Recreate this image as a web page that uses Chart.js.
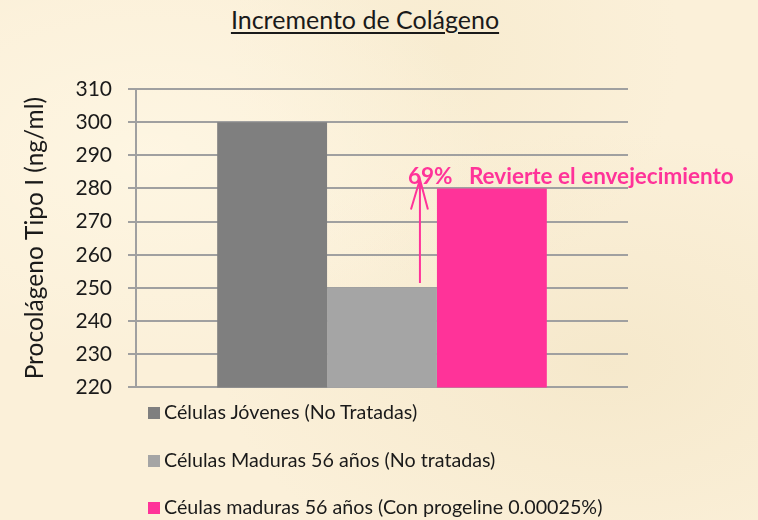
<!DOCTYPE html>
<html>
<head>
<meta charset="utf-8">
<script src="https://cdn.jsdelivr.net/npm/chart.js@4"></script>
<style>
  html, body { margin: 0; padding: 0; }
  body {
    width: 758px; height: 520px; overflow: hidden; position: relative;
    background: #fbf0d9;
    background-image:
      radial-gradient(ellipse at 20% 30%, rgba(255,248,230,0.7), rgba(255,248,230,0) 40%),
      radial-gradient(ellipse at 80% 70%, rgba(240,225,190,0.5), rgba(240,225,190,0) 45%),
      radial-gradient(ellipse at 60% 10%, rgba(245,232,200,0.5), rgba(245,232,200,0) 35%);
    font-family: Lato, "Open Sans", sans-serif;
  }
  #title {
    position: absolute; left: 0; width: 730px; top: 4px; text-align: center;
    font-size: 25px; color: #1a1a1a; text-decoration: underline; text-underline-offset: 3px;
  }
  #wrap { position: absolute; left: 0; top: 0; width: 758px; height: 416px; }
  #legend { position: absolute; left: 148px; top: 398px; }
  .item { height: 47.5px; line-height: 28px; font-size: 19.7px; color: #1a1a1a; white-space: nowrap; }
  .item span.box { display: inline-block; width: 12px; height: 12px; margin-right: 4px; vertical-align: 0px; }
</style>
</head>
<body>
<div id="title">Incremento de Colágeno</div>
<div id="wrap"><canvas id="chart" width="758" height="416"></canvas></div>
<div id="legend"></div>
<script>
var categories = [""];
var seriesNames = [
  "Células Jóvenes (No Tratadas)",
  "Células Maduras 56 años (No tratadas)",
  "Céulas maduras 56 años (Con progeline 0.00025%)"
];
var seriesValues = [[300], [250], [280]];
var seriesColors = ["#7f7f7f", "#a5a5a5", "#ff3399"];
var yTicks = [220, 230, 240, 250, 260, 270, 280, 290, 300, 310];
var annotationText = "69%   Revierte el envejecimiento";
var arrowFrom = 251.5, arrowTo = 282.7;

var arrowPlugin = {
  id: "arrow",
  afterDatasetsDraw: function (chart) {
    var c = chart.ctx, y = chart.scales.y;
    var bar = chart.getDatasetMeta(1).data[0];
    var x = bar.x + bar.width / 2 - 17;
    var y1 = y.getPixelForValue(arrowFrom), y2 = y.getPixelForValue(arrowTo);
    c.save();
    c.strokeStyle = "#ff3399";
    c.lineWidth = 2;
    c.beginPath();
    c.moveTo(x, y1); c.lineTo(x, y2);
    c.moveTo(x - 9, y2 + 30); c.lineTo(x, y2); c.lineTo(x + 8, y2 + 30);
    c.stroke();
    c.fillStyle = "#ff3399";
    c.font = "bold 22.5px Lato";
    c.textBaseline = "alphabetic";
    c.fillText(annotationText, x - 12, y2 + 4);
    c.restore();
  }
};

var datasets = seriesNames.map(function (n, i) {
  return {
    label: n,
    data: seriesValues[i],
    backgroundColor: seriesColors[i],
    borderWidth: 0,
    barPercentage: 1,
    categoryPercentage: 0.67
  };
});

new Chart(document.getElementById("chart"), {
  type: "bar",
  data: { labels: categories, datasets: datasets },
  plugins: [arrowPlugin],
  options: {
    responsive: false,
    animation: false,
    layout: { padding: { left: 20, right: 130, top: 89, bottom: 13 } },
    plugins: { legend: { display: false }, tooltip: { enabled: false } },
    scales: {
      x: { display: false },
      y: {
        min: yTicks[0],
        max: yTicks[yTicks.length - 1],
        afterFit: function (s) { s.width = 116; },
        afterBuildTicks: function (s) { s.ticks = yTicks.map(function (v) { return { value: v }; }); },
        ticks: { color: "#1a1a1a", padding: 16, font: { family: "Lato", size: 21 } },
        grid: { color: "#a0a0a0", lineWidth: 2, tickLength: 8 },
        border: { color: "#a0a0a0", width: 2 },
        title: {
          display: true, text: "Procolágeno Tipo I (ng/ml)", color: "#1a1a1a",
          font: { family: "Lato", size: 24.5 }, padding: 0
        }
      }
    }
  }
});

var lg = document.getElementById("legend");
seriesNames.forEach(function (n, i) {
  var d = document.createElement("div");
  d.className = "item";
  d.innerHTML = '<span class="box" style="background:' + seriesColors[i] + '"></span>' + n;
  lg.appendChild(d);
});
</script>
</body>
</html>
